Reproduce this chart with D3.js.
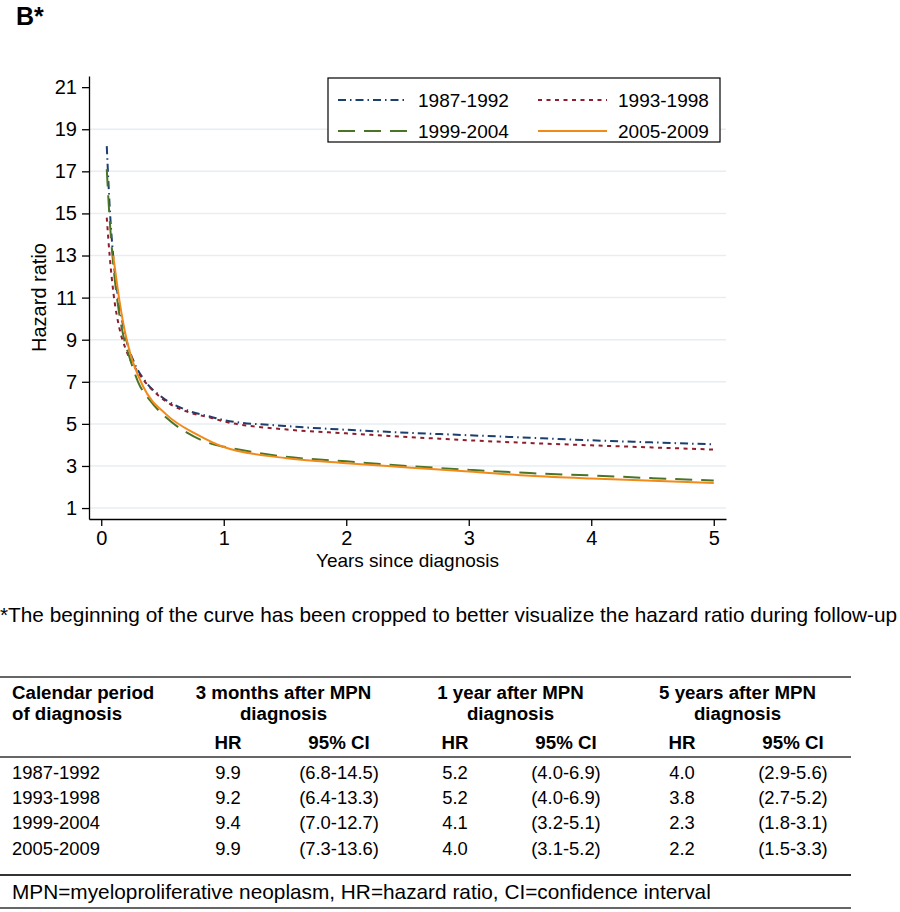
<!DOCTYPE html>
<html>
<head>
<meta charset="utf-8">
<script src="https://cdn.jsdelivr.net/npm/d3@7"></script>
<style>
  body { margin: 0; background: #fff; }
  svg { font-family: "Liberation Sans", Arial, sans-serif; }
</style>
</head>
<body>
<script>
let width = 900;
let height = 912;

// hazard ratio curves, [years since diagnosis, HR]
var hr8792 = [[0.045,18.2],[0.07,15.2],[0.1,12.8],[0.15,10.6],[0.2,9.1],[0.27,7.9],[0.35,7.1],[0.5,6.25],[0.7,5.65],[0.9,5.33],[1,5.18],[1.5,4.9],[2,4.72],[2.5,4.58],[3,4.46],[3.5,4.34],[4,4.22],[4.5,4.12],[5,4.03]];
var hr9398 = [[0.045,14.8],[0.07,12.9],[0.1,11.2],[0.15,9.5],[0.2,8.55],[0.3,7.45],[0.42,6.6],[0.56,5.95],[0.7,5.58],[0.9,5.28],[1,5.12],[1.5,4.74],[2,4.55],[2.5,4.38],[3,4.22],[3.5,4.09],[4,3.98],[4.5,3.88],[5,3.78]];
var hr9904 = [[0.045,17.1],[0.07,14.6],[0.09,13.1],[0.14,10.5],[0.18,9.2],[0.234,8.1],[0.3,7.0],[0.4,6.1],[0.53,5.3],[0.7,4.58],[0.9,4.05],[1,3.92],[1.5,3.44],[2,3.22],[2.5,3.0],[3,2.82],[3.5,2.66],[4,2.55],[4.5,2.42],[5,2.31]];
var hr0509 = [[0.098,13.0],[0.15,10.8],[0.2,9.2],[0.234,8.4],[0.34,6.8],[0.53,5.45],[0.78,4.5],[1,3.9],[1.5,3.38],[2,3.13],[2.5,2.93],[3,2.74],[3.5,2.53],[4,2.4],[4.5,2.3],[5,2.19]];

var periods = ['1987-1992', '1993-1998', '1999-2004', '2005-2009'];
var xTicks = [0, 1, 2, 3, 4, 5];
var yTicks = [1, 3, 5, 7, 9, 11, 13, 15, 17, 19, 21];

// table
var groupHeads = ['3 months after MPN', '1 year after MPN', '5 years after MPN'];
var hr3m = ['9.9', '9.2', '9.4', '9.9'];
var ci3m = ['(6.8-14.5)', '(6.4-13.3)', '(7.0-12.7)', '(7.3-13.6)'];
var hr1y = ['5.2', '5.2', '4.1', '4.0'];
var ci1y = ['(4.0-6.9)', '(4.0-6.9)', '(3.2-5.1)', '(3.1-5.2)'];
var hr5y = ['4.0', '3.8', '2.3', '2.2'];
var ci5y = ['(2.9-5.6)', '(2.7-5.2)', '(1.8-3.1)', '(1.5-3.3)'];

var series = [
  {name: periods[0], data: hr8792, color: '#1b3f6e', dash: '8,4,1.5,4'},
  {name: periods[1], data: hr9398, color: '#8e1d2d', dash: '4,4.5'},
  {name: periods[2], data: hr9904, color: '#4a7526', dash: '17,9'},
  {name: periods[3], data: hr0509, color: '#f28a1a', dash: null}
];

var svg = d3.select('body')
            .append('svg')
            .attr('width', width)
            .attr('height', height);

var plotLeft = 89, plotRight = 726, plotTop = 76, plotBottom = 519;

var x = d3.scaleLinear().domain([-0.1, 5.1]).range([plotLeft, plotRight]);
var y = d3.scaleLinear().domain([0.48, 21.53]).range([plotBottom, plotTop]);

svg.append('text').attr('x', 16).attr('y', 25).attr('font-size', 25).attr('font-weight', 'bold').text('B*');

// gridlines
svg.append('g').selectAll('line').data(yTicks.filter(d => d < 21)).enter().append('line')
   .attr('x1', plotLeft).attr('x2', plotRight)
   .attr('y1', d => y(d)).attr('y2', d => y(d))
   .attr('stroke', '#e6eef2').attr('stroke-width', 1.5);

var line = d3.line().x(d => x(d[0])).y(d => y(d[1])).curve(d3.curveMonotoneX);

series.forEach(function(s) {
  svg.append('path').datum(s.data)
     .attr('d', line)
     .attr('fill', 'none')
     .attr('stroke', s.color)
     .attr('stroke-width', 2)
     .attr('stroke-dasharray', s.dash);
});

// axes
var yAxis = svg.append('g').attr('transform', 'translate(' + plotLeft + ',0)')
   .call(d3.axisLeft(y).tickValues(yTicks).tickFormat(d3.format('d')).tickSize(7).tickSizeOuter(0).tickPadding(5));
var xAxis = svg.append('g').attr('transform', 'translate(0,' + plotBottom + ')')
   .call(d3.axisBottom(x).tickValues(xTicks).tickFormat(d3.format('d')).tickSize(7).tickSizeOuter(0).tickPadding(5));

[yAxis, xAxis].forEach(function(ax) {
  ax.attr('font-size', 20).attr('font-family', '"Liberation Sans", Arial, sans-serif');
  ax.select('.domain').attr('stroke', '#000').attr('stroke-width', 1.3);
  ax.selectAll('.tick line').attr('stroke', '#000').attr('stroke-width', 1.3);
  ax.selectAll('.tick text').attr('fill', '#000');
});

svg.append('text').attr('x', (plotLeft + plotRight) / 2).attr('y', 567)
   .attr('text-anchor', 'middle').attr('font-size', 19).text('Years since diagnosis');

svg.append('text').attr('transform', 'translate(46,' + ((plotTop + plotBottom) / 2) + ') rotate(-90)')
   .attr('text-anchor', 'middle').attr('font-size', 20).text('Hazard ratio');

// legend
var legend = svg.append('g');
legend.append('rect').attr('x', 328).attr('y', 78).attr('width', 392).attr('height', 64)
      .attr('fill', '#fff').attr('stroke', '#000').attr('stroke-width', 1.2);

series.forEach(function(s, i) {
  var lx = 338 + (i % 2) * 200;
  var ly = 100 + Math.floor(i / 2) * 31;
  legend.append('line').attr('x1', lx).attr('x2', lx + 69).attr('y1', ly).attr('y2', ly)
        .attr('stroke', s.color).attr('stroke-width', 2).attr('stroke-dasharray', s.dash);
  legend.append('text').attr('x', lx + 80).attr('y', ly).attr('dy', '0.35em')
        .attr('font-size', 19).text(s.name);
});

svg.append('text').attr('x', 0).attr('y', 622).attr('font-size', 20.8)
   .text('*The beginning of the curve has been cropped to better visualize the hazard ratio during follow-up');

// table
var tbl = svg.append('g');
var hrX = [228, 455, 682];
var ciX = [339, 566, 793];
var rowY = [773, 798, 823, 849];

function rule(yy, w) {
  tbl.append('line').attr('x1', 0).attr('x2', 851).attr('y1', yy).attr('y2', yy)
     .attr('stroke', '#333').attr('stroke-width', w);
}
rule(677, 1.5);
rule(757, 1.5);
rule(875, 2);
rule(908, 1.5);

function cell(tx, ty, txt, anchor, bold, fs) {
  tbl.append('text').attr('x', tx).attr('y', ty).attr('dy', '0.35em')
     .attr('text-anchor', anchor).attr('font-size', fs || 18.4)
     .attr('font-weight', bold ? 'bold' : 'normal').text(txt);
}

cell(12, 692, 'Calendar period', 'start', true, 18.7);
cell(12, 713, 'of diagnosis', 'start', true, 18.7);
groupHeads.forEach(function(g, i) {
  var cx = (hrX[i] + ciX[i]) / 2;
  cell(cx, 692, g, 'middle', true, 18.7);
  cell(cx, 713, 'diagnosis', 'middle', true, 18.7);
  cell(hrX[i], 742, 'HR', 'middle', true, 18.7);
  cell(ciX[i], 742, '95% CI', 'middle', true, 18.7);
});

var hrCols = [hr3m, hr1y, hr5y];
var ciCols = [ci3m, ci1y, ci5y];
periods.forEach(function(p, r) {
  cell(12, rowY[r], p, 'start', false);
  for (var c = 0; c < 3; c++) {
    cell(hrX[c], rowY[r], hrCols[c][r], 'middle', false);
    cell(ciX[c], rowY[r], ciCols[c][r], 'middle', false);
  }
});

cell(12, 892, 'MPN=myeloproliferative neoplasm, HR=hazard ratio, CI=confidence interval', 'start', false, 20.8);
</script>
</body>
</html>
